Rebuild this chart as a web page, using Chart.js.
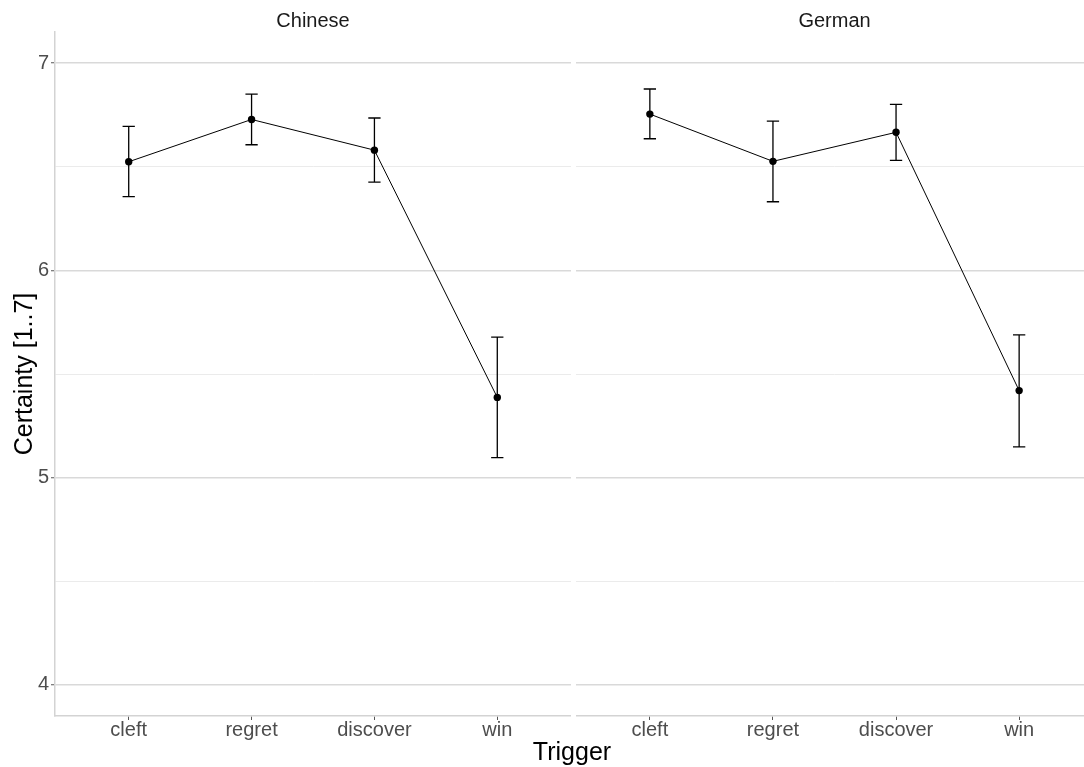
<!DOCTYPE html>
<html>
<head>
<meta charset="utf-8">
<script src="https://cdn.jsdelivr.net/npm/chart.js@4.4.0/dist/chart.umd.min.js"></script>
<style>
    body { margin: 0; background: #fff; }
    #wrap { position: relative; width: 1084px; height: 767px; overflow: hidden; font-family: "Liberation Sans", Arial, sans-serif; }
    #panel1 { position: absolute; left: 0; top: 0; }
    #panel2 { position: absolute; left: 576px; top: 0; }
    #xTitle { position: absolute; left: 572px; top: 739px; transform: translateX(-50%); font-size: 25px; line-height: 25px; color: #000; white-space: nowrap; }
</style>
</head>
<body>
<div id="wrap">
    <canvas id="panel1" width="571" height="767"></canvas>
    <canvas id="panel2" width="517" height="767"></canvas>
    <div id="xTitle">Trigger</div>
</div>
<script>
const triggers = ['cleft', 'regret', 'discover', 'win'];
const yTicks = [4, 4.5, 5, 5.5, 6, 6.5, 7];

const chineseMean = [6.524, 6.728, 6.580, 5.387];
const chineseLow = [6.356, 6.606, 6.426, 5.097];
const chineseHigh = [6.695, 6.850, 6.735, 5.678];

const germanMean = [6.754, 6.526, 6.666, 5.420];
const germanLow = [6.635, 6.331, 6.531, 5.148];
const germanHigh = [6.875, 6.720, 6.801, 5.689];

const fontName = '"Liberation Sans", Arial, sans-serif';

// error bars + facet strip label
const errorBars = {
    id: 'errorBars',
    beforeDatasetsDraw(chart, args, opts) {
        let ctx = chart.ctx;
        let x = chart.scales.x, y = chart.scales.y;
        let capHalf = x.getPixelForValue(0.05) - x.getPixelForValue(0);
        ctx.save();
        ctx.strokeStyle = '#000';
        ctx.lineWidth = 1.3;
        opts.low.forEach((lo, i) => {
            let px = x.getPixelForValue(i);
            let yl = y.getPixelForValue(lo);
            let yh = y.getPixelForValue(opts.high[i]);
            ctx.beginPath();
            ctx.moveTo(px, yl); ctx.lineTo(px, yh);
            ctx.moveTo(px - capHalf, yl); ctx.lineTo(px + capHalf, yl);
            ctx.moveTo(px - capHalf, yh); ctx.lineTo(px + capHalf, yh);
            ctx.stroke();
        });
        ctx.restore();
    },
    afterDraw(chart, args, opts) {
        let ctx = chart.ctx;
        let area = chart.chartArea;
        ctx.save();
        ctx.font = '20px ' + fontName;
        ctx.fillStyle = '#1A1A1A';
        ctx.textAlign = 'center';
        ctx.textBaseline = 'alphabetic';
        ctx.fillText(opts.label, (area.left + area.right) / 2, 27);
        ctx.restore();
    }
};

function makePanel(canvasId, label, mean, low, high, showY) {
    let ctx = document.getElementById(canvasId).getContext('2d');
    return new Chart(ctx, {
        type: 'line',
        data: {
            datasets: [{
                data: mean.map((v, i) => ({ x: i, y: v })),
                borderColor: '#000',
                borderWidth: 1,
                backgroundColor: '#000',
                pointRadius: 3.7,
                pointBorderWidth: 0,
                tension: 0
            }]
        },
        options: {
            responsive: false,
            animation: false,
            layout: { autoPadding: false, padding: { top: 32, left: 0, right: 0, bottom: 0 } },
            plugins: {
                legend: { display: false },
                tooltip: { enabled: false },
                errorBars: { low: low, high: high, label: label }
            },
            scales: {
                x: {
                    type: 'linear',
                    min: -0.6,
                    max: 3.6,
                    afterBuildTicks: s => { s.ticks = triggers.map((t, i) => ({ value: i })); },
                    afterFit: s => { s.height = 51; },
                    ticks: {
                        callback: v => triggers[v],
                        color: '#4D4D4D',
                        font: { family: fontName, size: 20 },
                        padding: -2,
                        maxRotation: 0,
                        autoSkip: false
                    },
                    grid: { drawOnChartArea: false, drawTicks: true, tickLength: 4, tickColor: '#555', tickWidth: 1 },
                    border: { display: true, color: '#D3D3D3', width: 1.5 }
                },
                y: {
                    min: 3.85,
                    max: 7.15,
                    afterBuildTicks: s => { s.ticks = yTicks.map(v => ({ value: v })); },
                    afterFit: s => { s.width = showY ? 55 : 0; },
                    ticks: {
                        display: showY,
                        callback: v => Number.isInteger(v) ? String(v) : '',
                        color: '#4D4D4D',
                        font: { family: fontName, size: 20 },
                        padding: 2
                    },
                    grid: {
                        color: c => Number.isInteger(c.tick.value) ? '#D9D9D9' : '#EBEBEB',
                        lineWidth: c => Number.isInteger(c.tick.value) ? 1.5 : 1,
                        drawTicks: showY,
                        tickLength: 4,
                        tickColor: c => Number.isInteger(c.tick.value) ? '#555' : 'rgba(0,0,0,0)',
                        tickWidth: 1
                    },
                    border: { display: showY, color: '#D3D3D3', width: 1.5 },
                    title: {
                        display: showY,
                        text: 'Certainty [1..7]',
                        color: '#000',
                        font: { family: fontName, size: 25 },
                        padding: { top: 10, bottom: 0 }
                    }
                }
            }
        },
        plugins: [errorBars]
    });
}

makePanel('panel1', 'Chinese', chineseMean, chineseLow, chineseHigh, true);
makePanel('panel2', 'German', germanMean, germanLow, germanHigh, false);
</script>
</body>
</html>
